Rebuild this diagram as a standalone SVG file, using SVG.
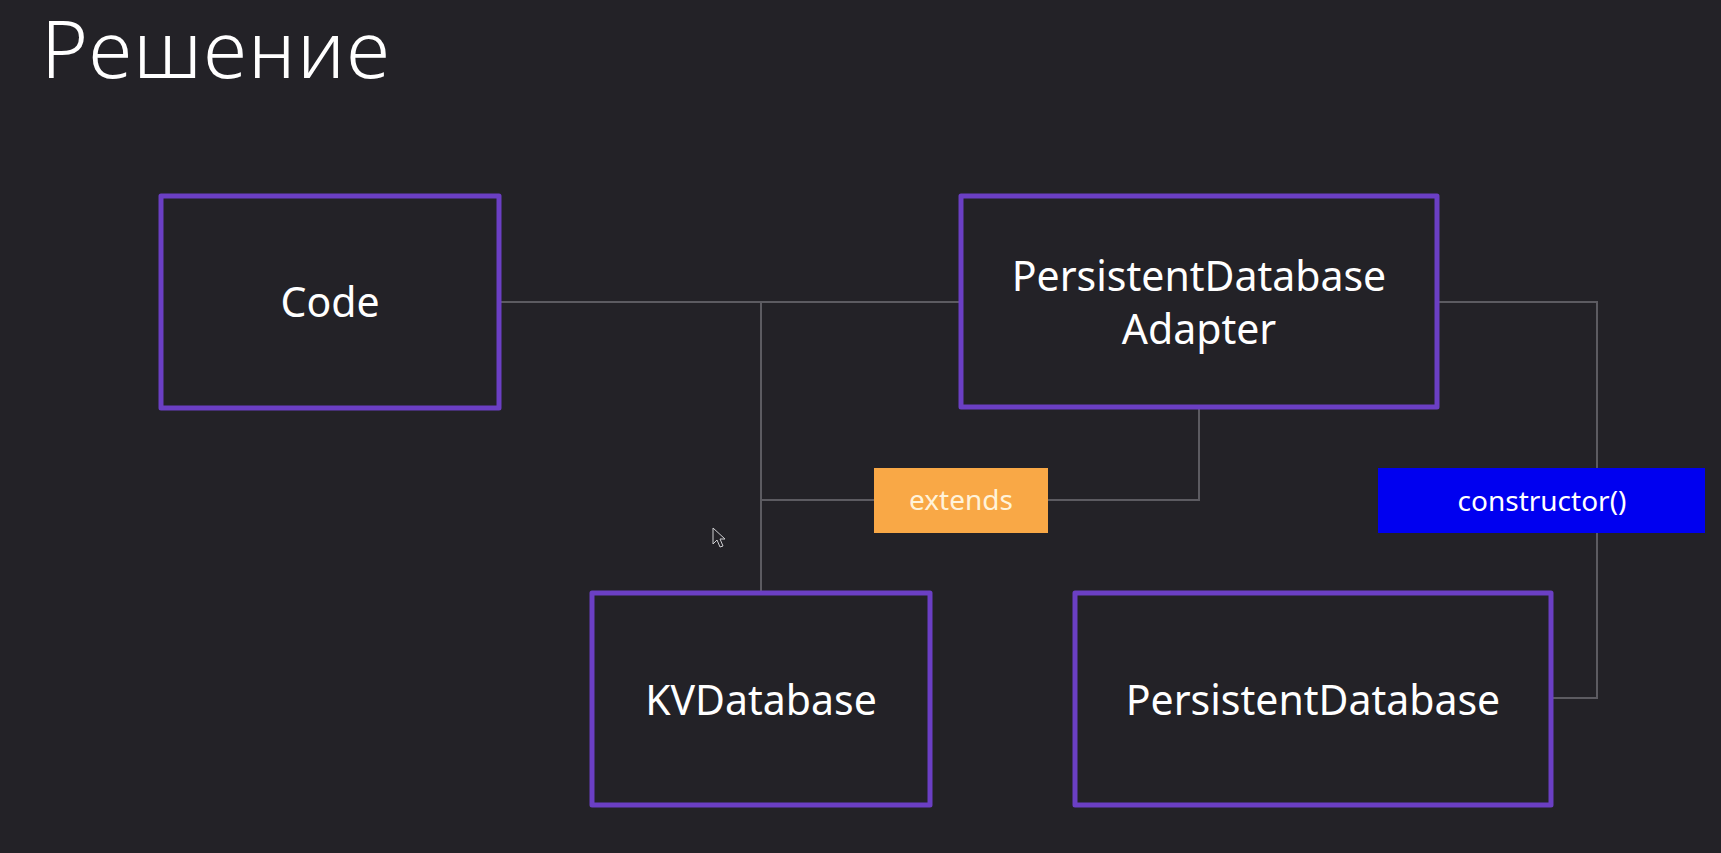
<svg xmlns="http://www.w3.org/2000/svg" width="1721" height="853" viewBox="0 0 1721 853">
<style>
.node rect{fill:#232227;stroke:#6b3fc4;stroke-width:5;stroke-linejoin:round}
.node text{fill:#ffffff;font-family:"Noto Sans","Open Sans",sans-serif;font-size:41px;text-anchor:middle}
.conn{fill:none;stroke:#5c5b61;stroke-width:2}
.lbl{font-family:"Noto Sans","Open Sans",sans-serif;font-size:28px;text-anchor:middle}
</style>
<rect width="1721" height="853" fill="#232227"/>
<text x="41" y="78" font-family="'Noto Sans','Open Sans',sans-serif" font-weight="300" font-size="80" letter-spacing="1.5" fill="#ffffff">Решение</text>
<g id="connectors">
<path class="conn" d="M499 302 H961"/>
<path class="conn" d="M761 302 V593"/>
<path class="conn" d="M761 500 H874"/>
<path class="conn" d="M1048 500 H1199 V407"/>
<path class="conn" d="M1437 302 H1597 V698 H1551"/>
</g>
<g id="code" class="node"><rect x="161" y="196" width="338" height="212"/><text x="330" y="317">Code</text></g>
<g id="adapter" class="node"><rect x="961" y="196" width="476" height="211"/><text x="1199" y="291">PersistentDatabase</text><text x="1199" y="344">Adapter</text></g>
<g id="kvdatabase" class="node"><rect x="592" y="593" width="338" height="212"/><text x="761" y="715">KVDatabase</text></g>
<g id="persistentdatabase" class="node"><rect x="1075" y="593" width="476" height="212"/><text x="1313" y="715">PersistentDatabase</text></g>
<g id="extends-label"><rect x="874" y="468" width="174" height="65" fill="#f9a846"/><text class="lbl" x="961" y="510" fill="#fff3da">extends</text></g>
<g id="constructor-label"><rect x="1378" y="468" width="327" height="65" fill="#0000f0"/><text class="lbl" x="1542" y="511" fill="#ffffff">constructor()</text></g>
<path d="M713 528 L713 544 L717 540 L720 547 L723 546 L720 539 L725 539 Z" fill="#232227" stroke="#cfcfd2" stroke-width="1"/>
</svg>
